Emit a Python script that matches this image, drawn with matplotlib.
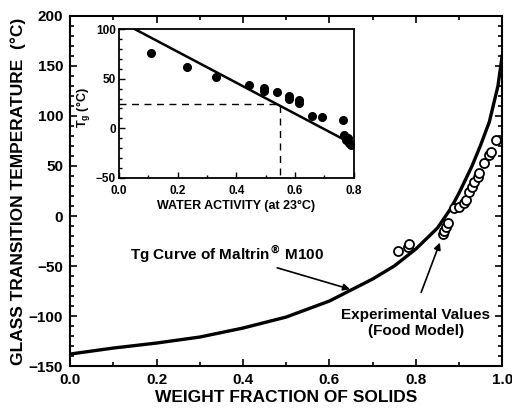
import matplotlib.pyplot as plt
from matplotlib.ticker import MultipleLocator, FormatStrFormatter

plt.rcParams['font.family'] = ['Liberation Sans', 'DejaVu Sans']
plt.rcParams['font.weight'] = 'bold'
plt.rcParams['axes.labelweight'] = 'bold'
plt.rcParams['mathtext.default'] = 'bf'

# Tg curve of Maltrin M100 (main plot)
curve_w = [0.0, 0.1, 0.2, 0.3, 0.4, 0.5, 0.6, 0.65, 0.7, 0.75, 0.8, 0.85,
           0.88, 0.9, 0.93, 0.95, 0.97, 0.99, 1.0]
curve_tg = [-138, -132, -127, -121, -112, -101, -85, -74, -63, -50, -33, -12,
            7, 23, 50, 71, 94, 130, 161]

# experimental values (food model), open circles
exp_w = [0.758, 0.781, 0.785, 0.862, 0.866, 0.870, 0.874, 0.889, 0.901, 0.912,
         0.916, 0.924, 0.931, 0.935, 0.943, 0.947, 0.958, 0.970, 0.974, 0.985]
exp_tg = [-35, -31, -28, -18, -15, -11, -7, 8, 9, 13,
          16, 24, 29, 34, 39, 43, 53, 61, 64, 76]

# inset: Tg vs water activity
aw = [0.111, 0.233, 0.330, 0.444, 0.495, 0.495, 0.538, 0.578, 0.578, 0.614,
      0.614, 0.657, 0.693, 0.764, 0.765, 0.772, 0.780, 0.785, 0.790]
aw_tg = [76, 62, 52, 44, 41, 38, 37, 33, 30, 28,
         25, 12, 11, 8, -7, -12, -10, -15, -17]
fit_aw = [0.054, 0.79]
fit_tg = [100, -15]
aw_ref, tg_ref = 0.55, 24

fig = plt.figure(figsize=(5.12, 4.09), dpi=100)
ax = fig.add_axes([0.137, 0.105, 0.844, 0.856])

ax.plot(curve_w, curve_tg, 'k-', linewidth=2.4, solid_capstyle='round')
ax.plot(exp_w, exp_tg, 'o', markersize=6.5, markerfacecolor='white',
        markeredgecolor='black', markeredgewidth=1.3)

ax.set_xlim(0, 1.0)
ax.set_ylim(-150, 200)
ax.xaxis.set_major_locator(MultipleLocator(0.2))
ax.xaxis.set_minor_locator(MultipleLocator(0.1))
ax.xaxis.set_major_formatter(FormatStrFormatter('%.1f'))
ax.yaxis.set_major_locator(MultipleLocator(50))
ax.yaxis.set_minor_locator(MultipleLocator(10))
ax.tick_params(which='both', direction='in', top=True, right=True, width=1.2)
ax.tick_params(which='major', length=5, labelsize=11, pad=5)
ax.tick_params(which='minor', length=3)
for lab in ax.get_xticklabels() + ax.get_yticklabels():
    lab.set_fontweight('bold')
for s in ax.spines.values():
    s.set_linewidth(1.5)
ax.set_xlabel('WEIGHT FRACTION OF SOLIDS', fontsize=12.5, labelpad=2)
ax.set_ylabel('GLASS TRANSITION TEMPERATURE  (°C)', fontsize=12.5, labelpad=2)

ax.text(0.139, -38, 'Tg Curve of Maltrin$^{®}$ M100', fontsize=11,
        va='center', ha='left')
ax.annotate('', xy=(0.654, -74), xytext=(0.473, -51),
            arrowprops=dict(arrowstyle='-|>', color='black', lw=1.2,
                            mutation_scale=10))
ax.text(0.80, -107, 'Experimental Values\n(Food Model)', fontsize=11,
        ha='center', va='center', linespacing=1.2)
ax.annotate('', xy=(0.858, -24), xytext=(0.81, -79),
            arrowprops=dict(arrowstyle='-|>', color='black', lw=1.2,
                            mutation_scale=10))

# ---- inset ----
ins = fig.add_axes([0.232, 0.565, 0.459, 0.364])
ins.plot(fit_aw, fit_tg, 'k-', linewidth=1.8)
ins.plot(aw, aw_tg, 'o', color='black', markersize=5.5)
ins.plot([0, aw_ref, aw_ref], [tg_ref, tg_ref, -50], 'k--', linewidth=1.0,
         dashes=(5, 4))
ins.set_xlim(0, 0.8)
ins.set_ylim(-50, 100)
ins.xaxis.set_major_locator(MultipleLocator(0.2))
ins.xaxis.set_minor_locator(MultipleLocator(0.1))
ins.xaxis.set_major_formatter(FormatStrFormatter('%.1f'))
ins.yaxis.set_major_locator(MultipleLocator(50))
ins.yaxis.set_minor_locator(MultipleLocator(10))
ins.tick_params(which='both', direction='in', width=1.0)
ins.tick_params(which='major', length=4, labelsize=8.5, pad=2)
ins.tick_params(axis='x', which='major', pad=5)
ins.tick_params(which='minor', length=2)
for lab in ins.get_xticklabels() + ins.get_yticklabels():
    lab.set_fontweight('bold')
for s in ins.spines.values():
    s.set_linewidth(1.3)
ins.set_xlabel('WATER ACTIVITY (at 23°C)', fontsize=9, labelpad=2)
ins.set_ylabel('T$_\\mathregular{g}$ (°C)', fontsize=9)
ins.yaxis.set_label_coords(-0.11, 0.47)

fig.savefig('out.png', dpi=100)
